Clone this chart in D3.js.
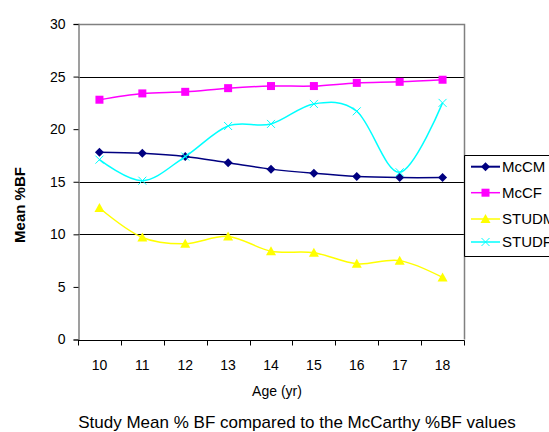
<!DOCTYPE html>
<html>
<head>
<meta charset="utf-8">
<script src="https://cdn.jsdelivr.net/npm/d3@7"></script>
<style>
  body { margin: 0; background: #fff; }
  text { font-family: "Liberation Sans", Arial, sans-serif; fill: #000; }
</style>
</head>
<body>
<div id="chart"></div>
<script>
var ages = ['10', '11', '12', '13', '14', '15', '16', '17', '18'];
var yTicks = [0, 5, 10, 15, 20, 25, 30];
var gridValues = [10, 15, 25];

var mccm  = [17.8, 17.7, 17.4, 16.8, 16.2, 15.8, 15.5, 15.4, 15.4];
var mccf  = [22.8, 23.4, 23.55, 23.9, 24.1, 24.1, 24.4, 24.5, 24.7];
var studm = [12.5, 9.7, 9.1, 9.8, 8.4, 8.25, 7.2, 7.5, 5.9];
var studf = [17.1, 15.1, 17.4, 20.3, 20.5, 22.4, 21.7, 15.9, 22.5];

var series = [
    { name: 'McCM',  values: mccm,  color: '#000080', marker: 'diamond' },
    { name: 'McCF',  values: mccf,  color: '#ff00ff', marker: 'square' },
    { name: 'STUDM', values: studm, color: '#ffff00', marker: 'triangle' },
    { name: 'STUDF', values: studf, color: '#00ffff', marker: 'cross' }
];

var width = 549, height = 432;
var plot = { left: 78, top: 24, right: 464, bottom: 339.5 };

var svg = d3.select('#chart').append('svg')
    .attr('width', width)
    .attr('height', height);

var x = d3.scaleBand().domain(ages).range([plot.left, plot.right]);
var y = d3.scaleLinear().domain([0, 30]).range([plot.bottom, plot.top]);

/* gridlines */
svg.append('g').selectAll('line')
    .data(gridValues)
    .enter().append('line')
    .attr('x1', plot.left).attr('x2', plot.right)
    .attr('y1', function(d) { return Math.round(y(d)) + 0.5; })
    .attr('y2', function(d) { return Math.round(y(d)) + 0.5; })
    .attr('stroke', '#000')
    .attr('stroke-width', 1);

/* plot frame: top and right gray */
svg.append('path')
    .attr('d', 'M' + plot.left + ',' + (plot.top + 0.5) + 'H' + (plot.right + 0.5) + 'V' + plot.bottom)
    .attr('fill', 'none')
    .attr('stroke', '#808080')
    .attr('stroke-width', 1.5);

/* y axis */
var yAxis = svg.append('g')
    .attr('transform', 'translate(' + (plot.left + 0.5) + ',0)')
    .call(d3.axisLeft(y).tickValues(yTicks).tickSize(5).tickPadding(8));
yAxis.select('.domain').attr('stroke', '#808080').attr('stroke-width', 1.5);
yAxis.selectAll('.tick line').attr('stroke', '#000');
yAxis.selectAll('text').style('font-size', '14px');

/* x axis with ticks at band edges */
var xAxisG = svg.append('g')
    .attr('transform', 'translate(0,' + (Math.round(plot.bottom) + 0.5) + ')');
xAxisG.append('line')
    .attr('x1', plot.left).attr('x2', plot.right + 0.5)
    .attr('stroke', '#000').attr('stroke-width', 1.2);
var edges = ages.map(function(a) { return x(a); }).concat([plot.right]);
xAxisG.selectAll('.edge')
    .data(edges)
    .enter().append('line')
    .attr('class', 'edge')
    .attr('x1', function(d) { return Math.round(d) + 0.5; })
    .attr('x2', function(d) { return Math.round(d) + 0.5; })
    .attr('y1', 0).attr('y2', 5)
    .attr('stroke', '#000');
xAxisG.selectAll('.lbl')
    .data(ages)
    .enter().append('text')
    .attr('class', 'lbl')
    .attr('x', function(d) { return x(d) + x.bandwidth() / 2; })
    .attr('y', 29)
    .attr('text-anchor', 'middle')
    .style('font-size', '14px')
    .text(function(d) { return d; });

/* lines */
var line = d3.line()
    .x(function(d, i) { return x(ages[i]) + x.bandwidth() / 2; })
    .y(function(d) { return y(d); })
    .curve(d3.curveCardinal.tension(0));

var drawMarker = function(g, type, color, cx, cy) {
    if (type === 'diamond') {
        g.append('path')
            .attr('d', 'M' + cx + ',' + (cy - 4.5) + 'L' + (cx + 4.5) + ',' + cy + 'L' + cx + ',' + (cy + 4.5) + 'L' + (cx - 4.5) + ',' + cy + 'Z')
            .attr('fill', color);
    } else if (type === 'square') {
        g.append('rect')
            .attr('x', cx - 4).attr('y', cy - 4)
            .attr('width', 8).attr('height', 8)
            .attr('fill', color);
    } else if (type === 'triangle') {
        g.append('path')
            .attr('d', 'M' + cx + ',' + (cy - 5) + 'L' + (cx + 5) + ',' + (cy + 4) + 'L' + (cx - 5) + ',' + (cy + 4) + 'Z')
            .attr('fill', color);
    } else {
        g.append('path')
            .attr('d', 'M' + (cx - 4) + ',' + (cy - 4) + 'L' + (cx + 4) + ',' + (cy + 4) + 'M' + (cx + 4) + ',' + (cy - 4) + 'L' + (cx - 4) + ',' + (cy + 4))
            .attr('stroke', color)
            .attr('stroke-width', 1);
    }
};

series.forEach(function(s) {
    var g = svg.append('g');
    g.append('path')
        .attr('d', line(s.values))
        .attr('fill', 'none')
        .attr('stroke', s.color)
        .attr('stroke-width', 1.5);
    s.values.forEach(function(v, i) {
        drawMarker(g, s.marker, s.color, x(ages[i]) + x.bandwidth() / 2, y(v));
    });
});

/* legend */
var legendTop = 155.5, legendBottom = 256.5;
var legend = svg.append('g');
legend.append('path')
    .attr('d', 'M' + width + ',' + legendTop + 'H' + (plot.right + 0.5) + 'V' + legendBottom + 'H' + width)
    .attr('fill', 'none')
    .attr('stroke', '#000')
    .attr('stroke-width', 1);
var legendY = [166.7, 192.7, 219, 242];
series.forEach(function(s, i) {
    var ly = legendY[i];
    legend.append('line')
        .attr('x1', 471).attr('x2', 500)
        .attr('y1', ly).attr('y2', ly)
        .attr('stroke', s.color)
        .attr('stroke-width', i === 0 ? 2 : 1.5);
    drawMarker(legend, s.marker, s.color, 485.5, ly);
    legend.append('text')
        .attr('x', 502)
        .attr('y', ly + 5)
        .style('font-size', '15px')
        .text(s.name);
});

/* axis titles */
svg.append('text')
    .attr('transform', 'translate(25,205) rotate(-90)')
    .attr('text-anchor', 'middle')
    .style('font-size', '15px')
    .style('font-weight', 'bold')
    .text('Mean %BF');

svg.append('text')
    .attr('x', 277)
    .attr('y', 396)
    .attr('text-anchor', 'middle')
    .style('font-size', '14px')
    .text('Age (yr)');

svg.append('text')
    .attr('x', 297)
    .attr('y', 428)
    .attr('text-anchor', 'middle')
    .style('font-size', '17px')
    .text('Study Mean % BF compared to the McCarthy %BF values');
</script>
</body>
</html>
